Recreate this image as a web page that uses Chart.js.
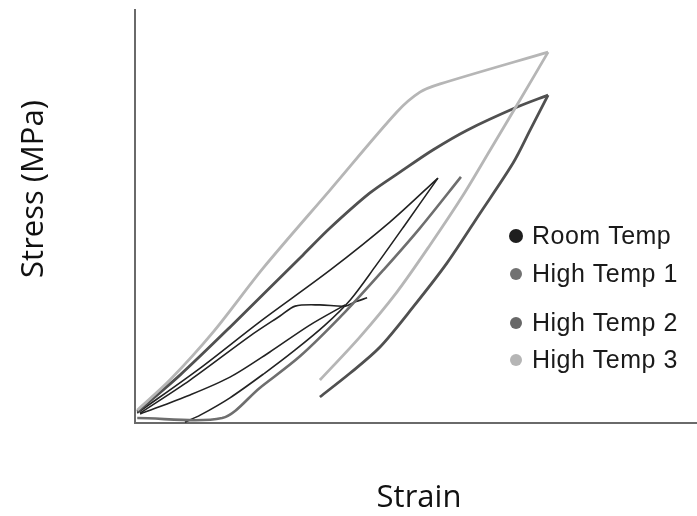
<!DOCTYPE html>
<html>
<head>
<meta charset="utf-8">
<script src="https://cdn.jsdelivr.net/npm/chart.js@4.4.1/dist/chart.umd.min.js"></script>
<style>
  html, body { margin: 0; padding: 0; background: #fff; }
  #wrap { width: 697px; height: 516px; position: relative; }
</style>
</head>
<body>
<div id="wrap"><canvas id="stressChart"></canvas></div>
<script>
/* ── DATA (strain %, stress MPa) ─────────────────────────── */
const seriesNames  = ['Room Temp', 'High Temp 1', 'High Temp 2', 'High Temp 3'];
const markerColors = ['#1e1e1e', '#727272', '#686868', '#b5b5b5'];

// Room Temp: first cycle loading / unloading
const roomLoadStrain   = [0.04, 1.16, 2.22, 3.47, 4.54, 5.39];
const roomLoadStress   = [2.4, 13.3, 24.5, 37.0, 48.7, 59.3];
const roomUnloadStrain = [5.39, 4.80, 4.27, 3.83, 3.38, 2.85, 2.31, 1.69, 1.16, 0.89];
const roomUnloadStress = [59.3, 47.9, 37.8, 29.8, 23.7, 17.7, 12.1, 6.1, 1.9, 0.2];
// Room Temp: plateau curve and lower reload
const roomPlateauStrain = [0.09, 0.98, 2.05, 2.58, 2.85, 3.29, 3.74, 3.91, 4.13];
const roomPlateauStress = [2.4, 10.4, 21.1, 25.9, 28.3, 28.6, 28.3, 29.3, 30.3];
const roomReloadStrain  = [0.09, 0.98, 1.69, 2.40, 3.11, 3.74];
const roomReloadStress  = [2.2, 6.8, 11.1, 17.2, 23.7, 28.6];

// High Temp 1
const ht1Strain = [0.04, 1.55, 2.22, 2.94, 3.74, 4.45, 5.07, 5.80];
const ht1Stress = [1.2, 1.2, 8.5, 16.2, 26.9, 37.5, 47.2, 59.6];

// High Temp 2
const ht2LoadStrain   = [0.04, 0.80, 1.69, 2.99, 3.47, 4.18, 4.72, 5.30, 5.91, 6.80, 7.35];
const ht2LoadStress   = [2.7, 11.6, 23.2, 40.7, 47.2, 55.7, 60.8, 66.1, 70.9, 76.5, 79.4];
const ht2UnloadStrain = [7.35, 7.03, 6.73, 6.14, 5.55, 4.95, 4.36, 3.83, 3.29];
const ht2UnloadStress = [79.4, 70.9, 63.0, 50.8, 38.7, 28.1, 18.4, 12.1, 6.3];

// High Temp 3
const ht3LoadStrain   = [0.04, 0.62, 1.39, 2.28, 3.47, 4.66, 5.07, 5.43, 7.35];
const ht3LoadStress   = [3.1, 10.4, 22.0, 37.5, 56.4, 75.3, 80.1, 82.1, 89.8];
const ht3UnloadStrain = [7.35, 6.85, 6.32, 5.84, 5.25, 4.66, 4.00, 3.29];
const ht3UnloadStress = [89.8, 78.2, 66.1, 55.2, 43.1, 31.7, 20.8, 10.4];

/* ── HELPERS ─────────────────────────────────────────────── */
function pts(xs, ys) { return xs.map((x, i) => ({ x: x, y: ys[i] })); }

function branch(series, xs, ys, color, width) {
    return {
        label: seriesNames[series],
        data: pts(xs, ys),
        showLine: true,
        borderColor: color,
        borderWidth: width,
        pointRadius: 0,
        tension: 0.3,
        fill: false,
    };
}

const datasets = [
    branch(3, ht3LoadStrain, ht3LoadStress, '#b6b6b6', 2.8),
    branch(3, ht3UnloadStrain, ht3UnloadStress, '#b6b6b6', 2.8),
    branch(1, ht1Strain, ht1Stress, '#6e6e6e', 2.6),
    branch(2, ht2LoadStrain, ht2LoadStress, '#505050', 2.8),
    branch(2, ht2UnloadStrain, ht2UnloadStress, '#505050', 2.8),
    branch(0, roomLoadStrain, roomLoadStress, '#222222', 1.6),
    branch(0, roomUnloadStrain, roomUnloadStress, '#222222', 1.6),
    branch(0, roomPlateauStrain, roomPlateauStress, '#222222', 1.6),
    branch(0, roomReloadStrain, roomReloadStress, '#222222', 1.6),
];

/* ── TITLES + LEGEND (drawn on top) ──────────────────────── */
const legendRows = [236, 274, 323, 360];
const overlay = {
    id: 'overlay',
    afterDraw(chart) {
        const ctx = chart.ctx;
        ctx.save();
        ctx.fillStyle = '#111';
        ctx.font = "31px 'Open Sans'";
        ctx.textAlign = 'center';
        ctx.textBaseline = 'alphabetic';
        ctx.fillText('Strain', 419, 507);

        ctx.translate(43, 189);
        ctx.rotate(-Math.PI / 2);
        ctx.fillText('Stress (MPa)', 0, 0);
        ctx.restore();

        ctx.save();
        ctx.font = "25px 'Liberation Sans', Arial";
        ctx.textAlign = 'left';
        ctx.textBaseline = 'middle';
        if ('letterSpacing' in ctx) ctx.letterSpacing = '0.5px';
        seriesNames.forEach((name, i) => {
            const y = legendRows[i];
            ctx.beginPath();
            ctx.arc(516, y, i === 0 ? 7 : 6, 0, Math.PI * 2);
            ctx.fillStyle = markerColors[i];
            ctx.fill();
            ctx.fillStyle = '#1a1a1a';
            ctx.fillText(name, 532, y + 1);
        });
        ctx.restore();
    }
};

/* ── CHART ───────────────────────────────────────────────── */
new Chart(document.getElementById('stressChart'), {
    type: 'scatter',
    data: { datasets: datasets },
    options: {
        responsive: true,
        maintainAspectRatio: false,
        animation: false,
        layout: { padding: { left: 135, top: 10, right: 0, bottom: 93 } },
        plugins: {
            legend: { display: false },
            tooltip: { enabled: false },
        },
        scales: {
            x: {
                type: 'linear', min: 0, max: 10,
                ticks: { display: false },
                grid: { display: false, drawTicks: false },
                border: { display: true, color: '#6a6a6a', width: 2 },
            },
            y: {
                type: 'linear', min: 0, max: 100,
                ticks: { display: false },
                grid: { display: false, drawTicks: false },
                border: { display: true, color: '#6a6a6a', width: 2 },
            }
        }
    },
    plugins: [overlay]
});
</script>
</body>
</html>
